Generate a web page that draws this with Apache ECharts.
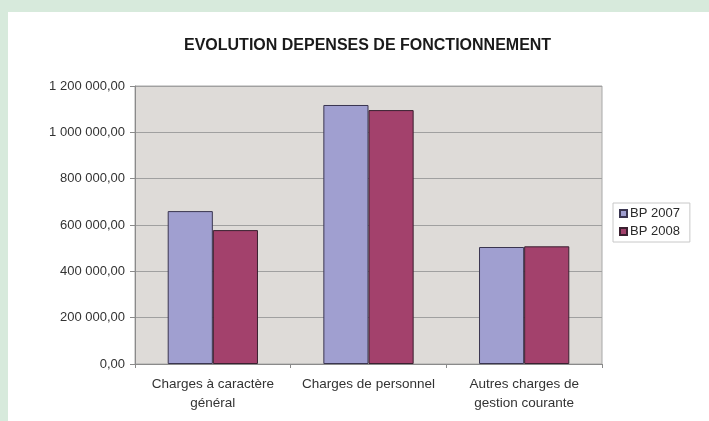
<!DOCTYPE html>
<html>
<head>
<meta charset="utf-8">
<script src="https://cdn.jsdelivr.net/npm/echarts@6/dist/echarts.min.js"></script>
<style>
  html, body { margin: 0; padding: 0; background: #d7eadc; }
  #chart { position: absolute; left: 8px; top: 12px; width: 701px; height: 409px; background: #ffffff; }
</style>
</head>
<body>
<div id="chart"></div>
<script>
// donnees
const categories = ['Charges à caractère\ngénéral', 'Charges de personnel', 'Autres charges de\ngestion courante'];
const bp2007 = [660000, 1118000, 505000];
const bp2008 = [578000, 1096000, 508000];
const yTicks = [0, 200000, 400000, 600000, 800000, 1000000, 1200000];

// format francais : 1 200 000,00
function fmt(v) {
	const parts = v.toFixed(2).split('.');
	return parts[0].replace(/\B(?=(\d{3})+(?!\d))/g, ' ') + ',' + parts[1];
}

const myChart = echarts.init(document.getElementById('chart'));

const option = {
	animation: false,
	textStyle: { fontFamily: 'Liberation Sans, Arial, sans-serif' },
	title: {
		text: 'EVOLUTION DEPENSES DE FONCTIONNEMENT',
		left: 171,
		top: 21,
		textStyle: { fontSize: 16, fontWeight: 'bold', color: '#1a1a1a' }
	},
	legend: {
		orient: 'vertical',
		left: 605,
		top: 191,
		padding: [4, 10, 4, 6],
		itemGap: 5,
		itemWidth: 7,
		itemHeight: 7,
		icon: 'rect',
		borderColor: '#c8c8c8',
		borderWidth: 1,
		textStyle: { fontSize: 13, color: '#2a2a2a', padding: [0, 0, 0, -2] },
		data: ['BP 2007', 'BP 2008']
	},
	grid: { left: 127, right: 107, top: 74, bottom: 57, show: true, backgroundColor: '#dedbd8', borderColor: '#a8a8a8', borderWidth: 1 },
	xAxis: {
		type: 'category',
		data: categories,
		axisLine: { lineStyle: { color: '#8a8a8a' } },
		axisTick: { show: true, interval: 0, alignWithLabel: false, length: 4, lineStyle: { color: '#8a8a8a' } },
		axisLabel: { interval: 0, hideOverlap: false, fontSize: 13.5, color: '#333', lineHeight: 19, margin: 11 }
	},
	yAxis: {
		type: 'value',
		min: 0,
		max: 1200000,
		interval: 200000,
		axisLine: { show: true, lineStyle: { color: '#8a8a8a' } },
		axisTick: { show: true, length: 5, lineStyle: { color: '#8a8a8a' } },
		splitLine: { lineStyle: { color: '#a0a0a0' } },
		axisLabel: { fontSize: 13, color: '#333', margin: 10, formatter: fmt }
	},
	series: [
		{
			name: 'BP 2007',
			type: 'bar',
			data: bp2007,
			barGap: '0%',
			barCategoryGap: '42%',
			itemStyle: { color: '#a09fd0', borderColor: '#3a3550', borderWidth: 1 }
		},
		{
			name: 'BP 2008',
			type: 'bar',
			data: bp2008,
			itemStyle: { color: '#a3416c', borderColor: '#3a2030', borderWidth: 1 }
		}
	]
};

myChart.setOption(option);
</script>
</body>
</html>
